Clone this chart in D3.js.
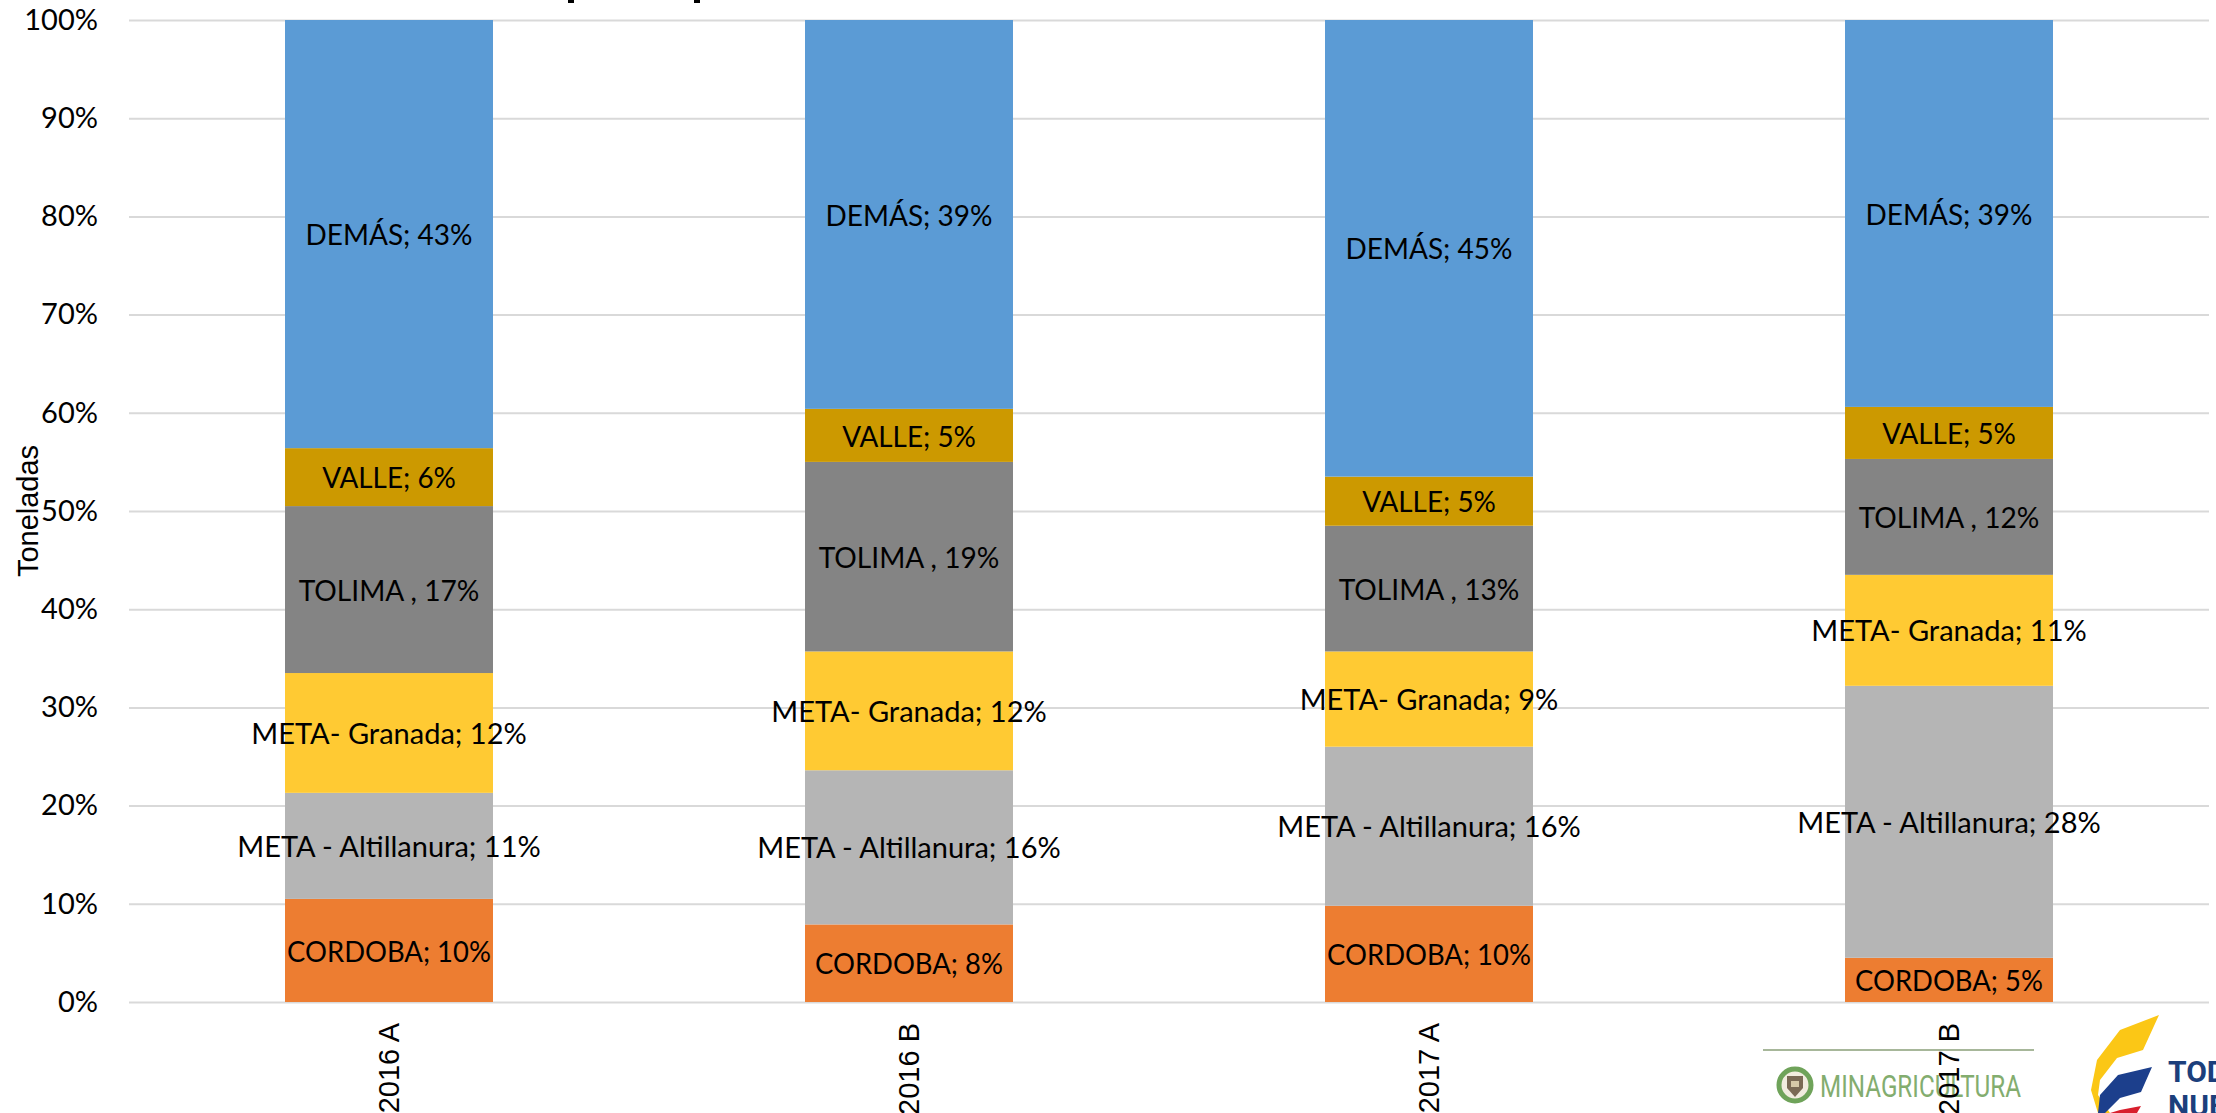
<!DOCTYPE html>
<html>
<head>
<meta charset="utf-8">
<script src="https://cdnjs.cloudflare.com/ajax/libs/d3/7.8.5/d3.min.js"></script>
<style>
  html, body { margin: 0; padding: 0; background: #fff; overflow: hidden; }
  text { font-family: Lato, "Open Sans", sans-serif; fill: #000; }
</style>
</head>
<body>
<script>
// chart data
var periods = ["2016 A", "2016 B", "2017 A", "2017 B"];
var regions = ["CORDOBA", "META - Altillanura", "META- Granada", "TOLIMA", "VALLE", "DEMÁS"];
var separators = ["; ", "; ", "; ", " , ", "; ", "; "];
var colors = ["#ed7d31", "#b5b5b5", "#ffca33", "#848484", "#cc9900", "#5b9bd5"];
var cordoba = [10.5, 7.9, 9.8, 4.5];
var altillanura = [10.8, 15.7, 16.2, 27.7];
var granada = [12.2, 12.1, 9.7, 11.3];
var tolima = [17.0, 19.3, 12.8, 11.8];
var valle = [5.9, 5.4, 5.0, 5.3];
var demas = [43.6, 39.6, 46.5, 39.4];
var yTicks = [0, 10, 20, 30, 40, 50, 60, 70, 80, 90, 100];
// printed labels do not always equal the bar height
var printed = [
    [10, 8, 10, 5],
    [11, 16, 16, 28],
    [12, 12, 9, 11],
    [17, 19, 13, 12],
    [6, 5, 5, 5],
    [43, 39, 45, 39]
];

var seriesValues = [cordoba, altillanura, granada, tolima, valle, demas];
var rows = periods.map(function (p, i) {
    var row = { period: p };
    regions.forEach(function (r, k) { row[r] = seriesValues[k][i]; });
    return row;
});

var svg = d3.select("body").append("svg")
    .attr("width", 2216)
    .attr("height", 1113);

// separate containers to control which things are drawn on top
var logos = svg.append("g");
var chart = svg.append("g");

var x = d3.scaleBand().domain(periods).range([129, 2209]).paddingInner(0.6).paddingOuter(0.3);
var y = d3.scaleLinear().domain([0, 100]).range([1002, 20]);

// gridlines and percent labels
var yAxis = d3.axisLeft(y)
    .tickValues(yTicks)
    .tickSize(-2080)
    .tickPadding(31)
    .tickFormat(function (d) { return d + "%"; });
var yG = chart.append("g").attr("transform", "translate(129,0)").call(yAxis);
yG.select(".domain").remove();
yG.selectAll("line").attr("stroke", "#d9d9d9").attr("stroke-width", 2);
yG.selectAll("text").attr("font-size", 29).style("font-family", "Lato");

// the stacked bars
var stacked = d3.stack().keys(regions)(rows);
stacked.forEach(function (layer, k) {
    chart.append("g").selectAll("rect").data(layer).enter().append("rect")
        .attr("x", function (d) { return x(d.data.period); })
        .attr("y", function (d) { return y(d[1]); })
        .attr("width", x.bandwidth())
        .attr("height", function (d) { return y(d[0]) - y(d[1]); })
        .attr("fill", colors[k]);
});

// labels inside the bars, capitals run a bit wide in this font so squeeze them
var squeeze = [0.945, 1, 1, 0.97, 0.96, 0.965];
stacked.forEach(function (layer, k) {
    chart.append("g").selectAll("text").data(layer).enter().append("text")
        .attr("x", function (d) { return x(d.data.period) + x.bandwidth() / 2; })
        .attr("y", function (d) { return y((d[0] + d[1]) / 2) + 1; })
        .attr("dy", "0.35em")
        .attr("text-anchor", "middle")
        .attr("font-size", 29)
        .attr("lengthAdjust", "spacingAndGlyphs")
        .text(function (d, i) { return regions[k] + separators[k] + printed[k][i] + "%"; })
        .attr("textLength", function () { return this.getComputedTextLength() * squeeze[k]; });
});

// period labels under the bars, rotated
var xAxis = d3.axisBottom(x).tickSize(0).tickPadding(0);
var xG = chart.append("g").attr("transform", "translate(0,1002)").call(xAxis);
xG.select(".domain").remove();
xG.selectAll("text")
    .attr("transform", "translate(0,21) rotate(-90)")
    .attr("x", 0).attr("y", 0).attr("dy", "0.35em")
    .attr("text-anchor", "end")
    .attr("font-size", 29)
    .style("font-family", "Liberation Sans");

chart.append("text")
    .attr("transform", "translate(28,511) rotate(-90)")
    .attr("dy", "0.35em")
    .attr("text-anchor", "middle")
    .attr("font-size", 29)
    .style("font-family", "Liberation Sans")
    .text("Toneladas");

// bits of the cut off title at the top edge
[568, 694].forEach(function (px) {
    chart.append("rect").attr("x", px).attr("y", 0).attr("width", 6).attr("height", 3).attr("fill", "#000");
});

// ministry logo
logos.append("line").attr("x1", 1763).attr("x2", 2034).attr("y1", 1050).attr("y2", 1050)
    .attr("stroke", "#8a9f78").attr("stroke-width", 1.5);
logos.append("circle").attr("cx", 1795).attr("cy", 1085).attr("r", 16)
    .attr("fill", "#f1ecdf").attr("stroke", "#6fa35a").attr("stroke-width", 5);
logos.append("path").attr("d", "M1787,1076 L1803,1076 L1803,1088 L1795,1097 L1787,1088 Z").attr("fill", "#7a6a55");
logos.append("rect").attr("x", 1791).attr("y", 1081).attr("width", 8).attr("height", 6).attr("fill", "#d6c9a8");
logos.append("text").attr("x", 1820).attr("y", 1097)
    .attr("font-size", 31)
    .attr("textLength", 201).attr("lengthAdjust", "spacingAndGlyphs")
    .style("font-family", "Liberation Sans Narrow, Roboto").style("fill", "#83ad6f")
    .text("MINAGRICULTURA");

// government logo, cut by the edge of the picture
logos.append("path").attr("d", "M2159,1015 L2143,1050 L2117,1058 L2100,1080 L2098,1095 L2110,1113 L2098,1113 L2091,1090 L2097,1060 L2120,1030 Z").attr("fill", "#fbc716");
logos.append("path").attr("d", "M2152,1067 L2141,1092 L2120,1098 L2105,1113 L2098,1113 L2100,1095 L2118,1075 Z").attr("fill", "#1c3f8c");
logos.append("path").attr("d", "M2141,1106 L2137,1113 L2110,1113 L2120,1110 Z").attr("fill", "#d81e2c");
logos.append("text").attr("x", 2168).attr("y", 1082).attr("font-size", 30).attr("font-weight", 700)
    .style("font-family", "Roboto").style("fill", "#1c3f7c").text("TODOS");
logos.append("text").attr("x", 2168).attr("y", 1116).attr("font-size", 30).attr("font-weight", 700)
    .style("font-family", "Roboto").style("fill", "#1c3f7c").text("NUEVO");
</script>
</body>
</html>
